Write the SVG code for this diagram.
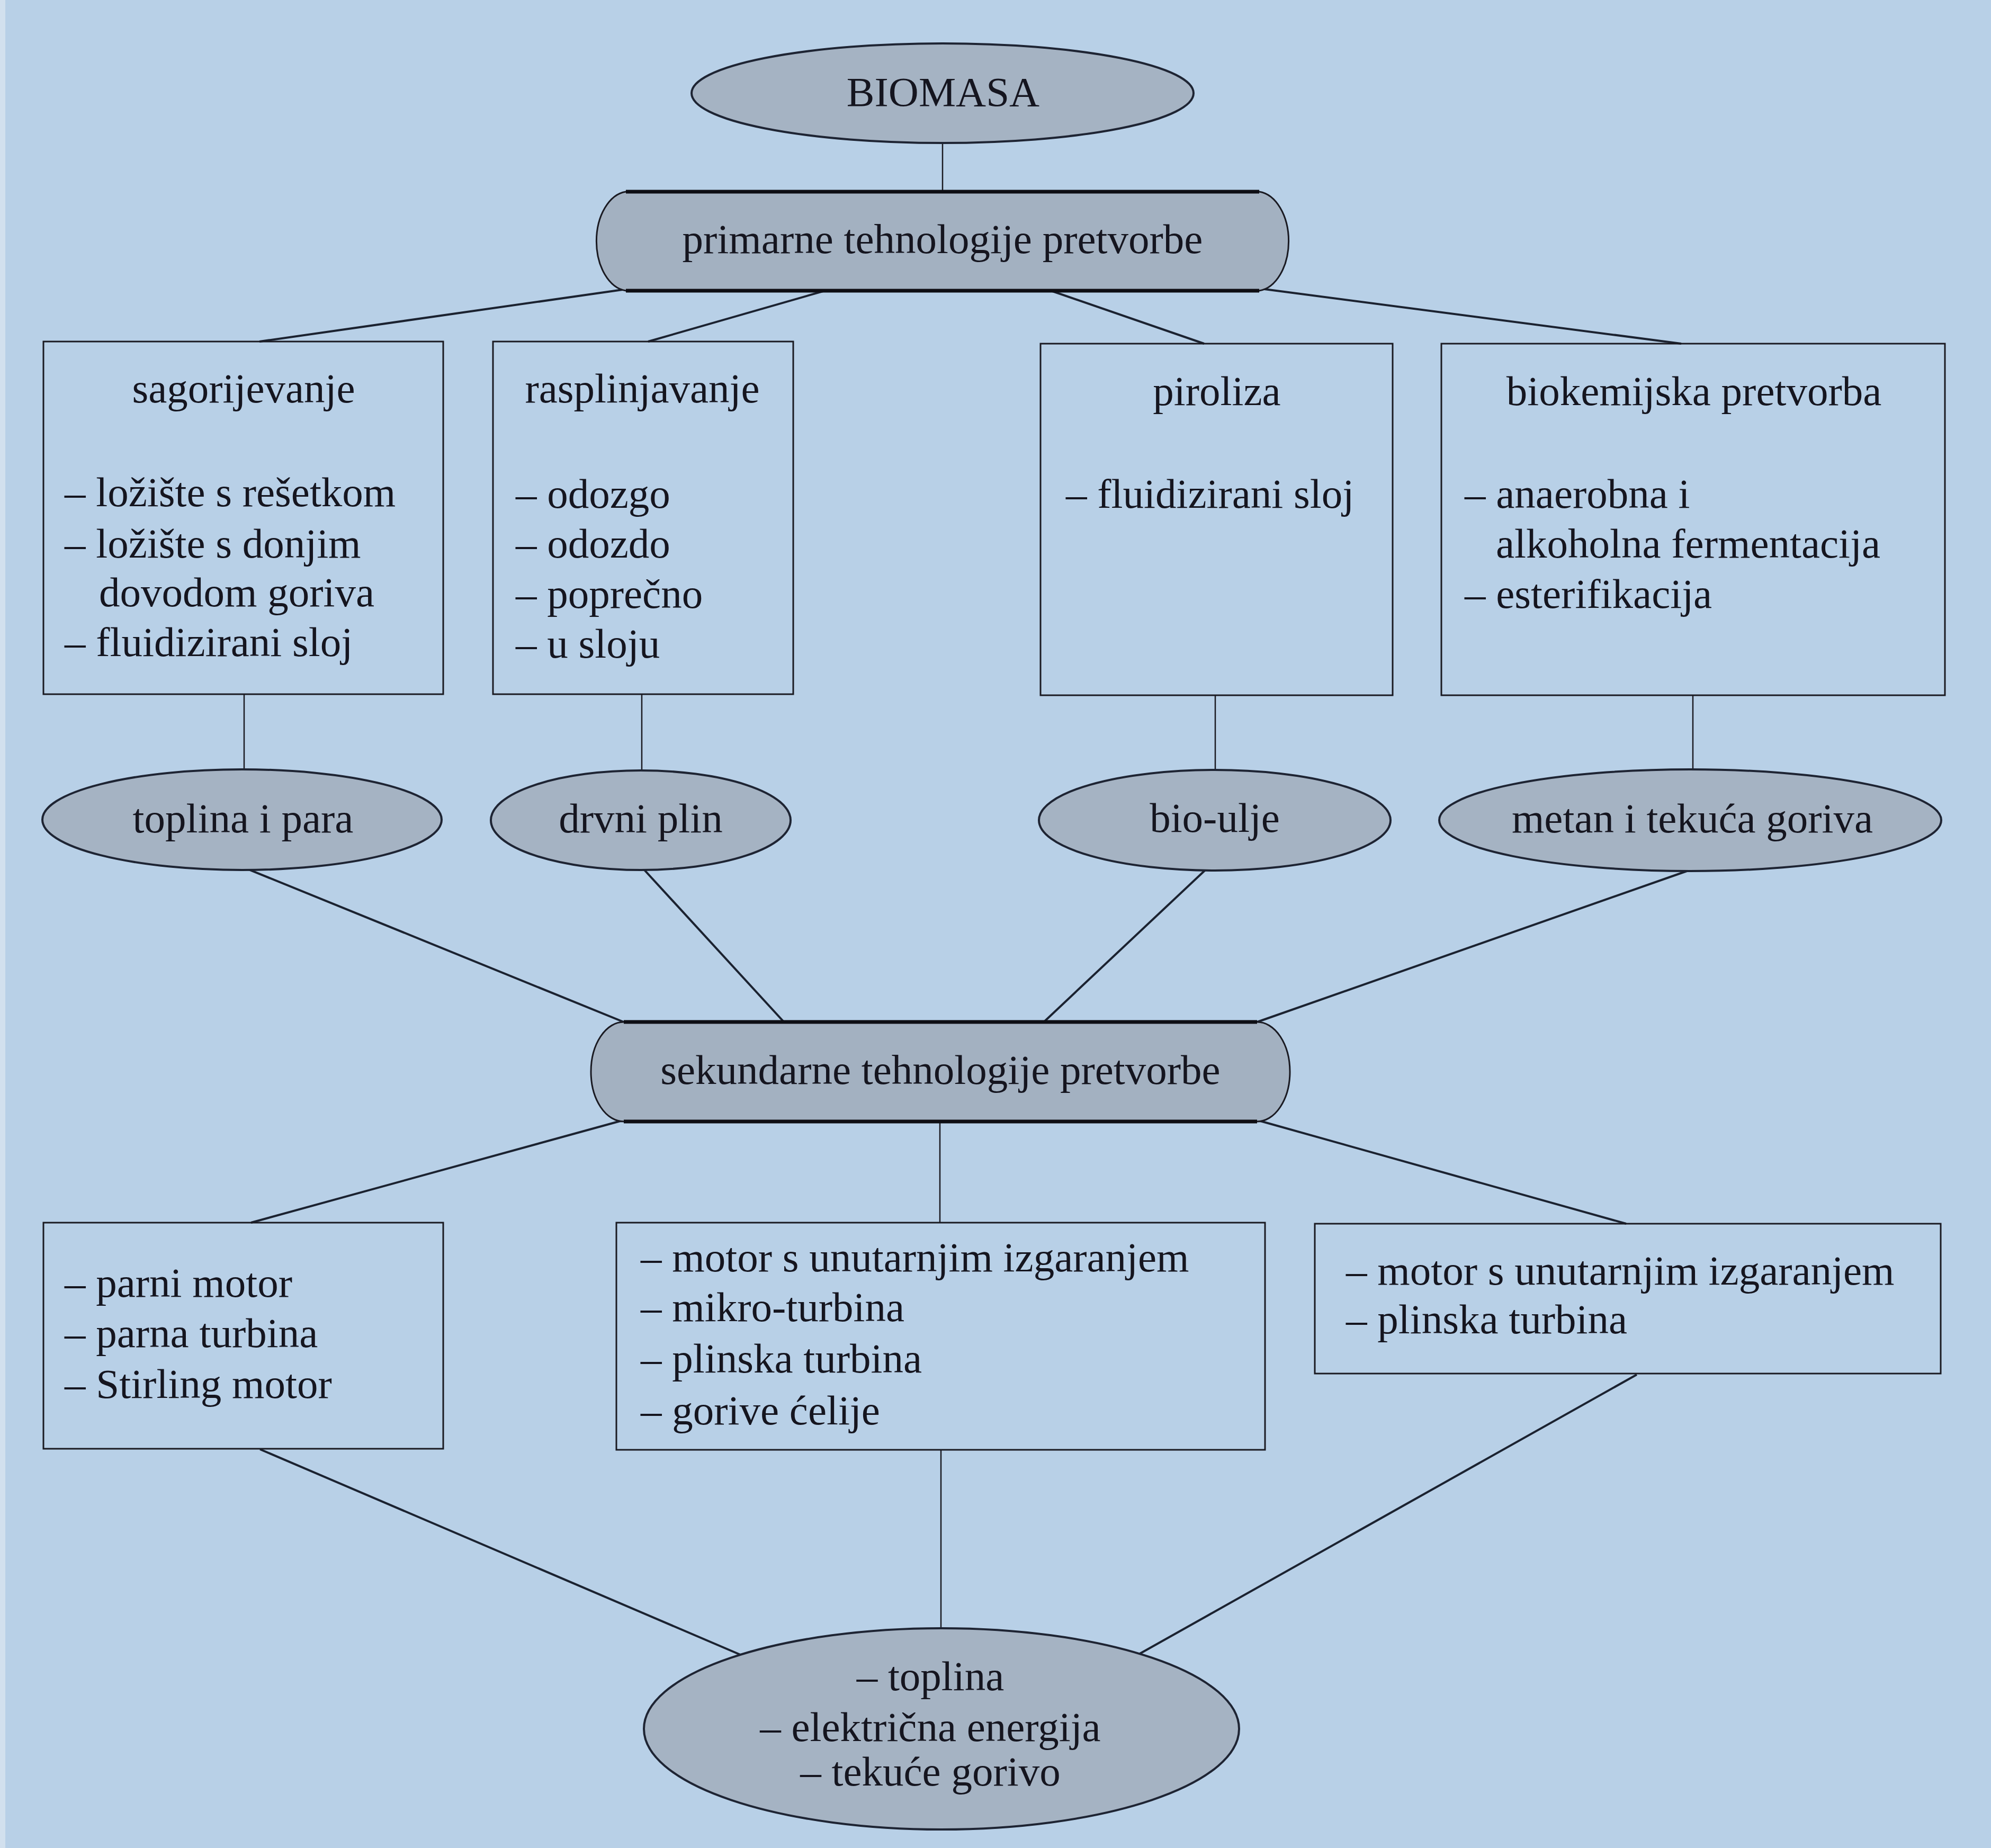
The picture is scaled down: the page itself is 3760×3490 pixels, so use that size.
<svg xmlns="http://www.w3.org/2000/svg" width="3760" height="3490" viewBox="0 0 3760 3490">
<style>
text{font-family:"Liberation Serif","Times New Roman",serif;font-size:79px;fill:#15151f}
.c{text-anchor:middle}
.el{fill:#a5b3c3;stroke:#1e2433;stroke-width:4}
.bx{fill:none;stroke:#1a1a22;stroke-width:3}
.rb{fill:#a3b1c1;stroke:#1a1a22;stroke-width:3}
.edge{stroke:#0e0e14;stroke-width:7}
.ln{stroke:#1b2230;stroke-width:4;fill:none}
.vl{stroke:#1b1b22;stroke-width:2.5;fill:none}
</style>
<rect x="0" y="0" width="3760" height="3490" fill="#b8d0e7"/>
<rect x="0" y="0" width="10" height="3490" fill="#d2e0ee"/>

<g id="connectors">
<line class="vl" x1="1780" y1="260" x2="1780" y2="370"/>
<line class="ln" x1="1190" y1="545" x2="490" y2="645"/>
<line class="ln" x1="1572" y1="545" x2="1224" y2="645"/>
<line class="ln" x1="1973" y1="545" x2="2274" y2="649"/>
<line class="ln" x1="2380" y1="545" x2="3175" y2="649"/>
<line class="vl" x1="461" y1="1311" x2="461" y2="1460"/>
<line class="vl" x1="1212" y1="1311" x2="1212" y2="1460"/>
<line class="vl" x1="2295" y1="1313" x2="2295" y2="1460"/>
<line class="vl" x1="3197" y1="1313" x2="3197" y2="1460"/>
<line class="ln" x1="440" y1="1630" x2="1190" y2="1935"/>
<line class="ln" x1="1205" y1="1630" x2="1485" y2="1935"/>
<line class="ln" x1="2290" y1="1630" x2="1966" y2="1935"/>
<line class="ln" x1="3200" y1="1640" x2="2360" y2="1935"/>
<line class="ln" x1="1190" y1="2112" x2="474" y2="2309"/>
<line class="vl" x1="1775" y1="2112" x2="1775" y2="2309"/>
<line class="ln" x1="2362" y1="2112" x2="3071" y2="2311"/>
<line class="ln" x1="491" y1="2737" x2="1410" y2="3130"/>
<line class="vl" x1="1777" y1="2738" x2="1777" y2="3085"/>
<line class="ln" x1="3091" y1="2596" x2="2140" y2="3130"/>
</g>

<g id="biomasa">
<ellipse class="el" cx="1780" cy="176" rx="474" ry="94"/>
<text class="c" x="1781" y="200">BIOMASA</text>
</g>

<g id="primarne">
<path class="rb" d="M1182,362 H2378 A62,94 0 0 1 2378,549 H1182 A62,94 0 0 1 1182,362 Z"/>
<line class="edge" x1="1182" y1="362" x2="2378" y2="362"/>
<line class="edge" x1="1182" y1="549" x2="2378" y2="549"/>
<text class="c" x="1780" y="478">primarne tehnologije pretvorbe</text>
</g>

<g id="sagorijevanje">
<rect class="bx" x="82" y="645" width="755" height="666"/>
<text class="c" x="460" y="760">sagorijevanje</text>
<text x="122" y="956">– ložište s rešetkom</text>
<text x="122" y="1053">– ložište s donjim</text>
<text x="187" y="1145">dovodom goriva</text>
<text x="122" y="1239">– fluidizirani sloj</text>
</g>

<g id="rasplinjavanje">
<rect class="bx" x="931" y="645" width="567" height="666"/>
<text class="c" x="1213" y="760">rasplinjavanje</text>
<text x="974" y="959">– odozgo</text>
<text x="974" y="1053">– odozdo</text>
<text x="974" y="1148">– poprečno</text>
<text x="974" y="1242">– u sloju</text>
</g>

<g id="piroliza">
<rect class="bx" x="1965" y="649" width="665" height="664"/>
<text class="c" x="2298" y="765">piroliza</text>
<text x="2013" y="959">– fluidizirani sloj</text>
</g>

<g id="biokemijska">
<rect class="bx" x="2722" y="649" width="951" height="664"/>
<text class="c" x="3199" y="765">biokemijska pretvorba</text>
<text x="2766" y="959">– anaerobna i</text>
<text x="2825" y="1053">alkoholna fermentacija</text>
<text x="2766" y="1148">– esterifikacija</text>
</g>

<g id="toplina-para">
<ellipse class="el" cx="457" cy="1548" rx="377" ry="95"/>
<text class="c" x="459" y="1572">toplina i para</text>
</g>

<g id="drvni-plin">
<ellipse class="el" cx="1210" cy="1549" rx="283" ry="94"/>
<text class="c" x="1210" y="1572">drvni plin</text>
</g>

<g id="bio-ulje">
<ellipse class="el" cx="2294" cy="1549" rx="332" ry="95"/>
<text class="c" x="2294" y="1571">bio-ulje</text>
</g>

<g id="metan">
<ellipse class="el" cx="3192" cy="1549" rx="474" ry="96"/>
<text class="c" x="3196" y="1572">metan i tekuća goriva</text>
</g>

<g id="sekundarne">
<path class="rb" d="M1178,1930 H2374 A62,94 0 0 1 2374,2118 H1178 A62,94 0 0 1 1178,1930 Z"/>
<line class="edge" x1="1178" y1="1930" x2="2374" y2="1930"/>
<line class="edge" x1="1178" y1="2118" x2="2374" y2="2118"/>
<text class="c" x="1776" y="2047">sekundarne tehnologije pretvorbe</text>
</g>

<g id="motori-para">
<rect class="bx" x="82" y="2309" width="755" height="427"/>
<text x="122" y="2449">– parni motor</text>
<text x="122" y="2544">– parna turbina</text>
<text x="122" y="2640">– Stirling motor</text>
</g>

<g id="motori-plin">
<rect class="bx" x="1164" y="2309" width="1225" height="429"/>
<text x="1210" y="2401">– motor s unutarnjim izgaranjem</text>
<text x="1210" y="2495">– mikro-turbina</text>
<text x="1210" y="2592">– plinska turbina</text>
<text x="1210" y="2690">– gorive ćelije</text>
</g>

<g id="motori-tekuce">
<rect class="bx" x="2483" y="2311" width="1182" height="283"/>
<text x="2542" y="2426">– motor s unutarnjim izgaranjem</text>
<text x="2542" y="2518">– plinska turbina</text>
</g>

<g id="proizvodi">
<ellipse class="el" cx="1778" cy="3265" rx="562" ry="190"/>
<text class="c" x="1757" y="3192">– toplina</text>
<text class="c" x="1757" y="3288">– električna energija</text>
<text class="c" x="1757" y="3372">– tekuće gorivo</text>
</g>
</svg>
